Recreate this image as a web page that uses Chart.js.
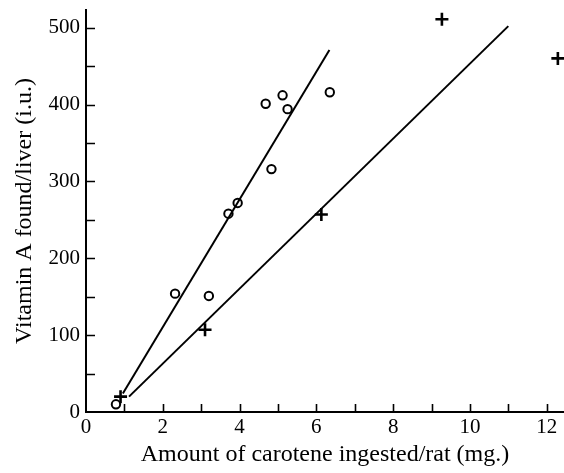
<!DOCTYPE html>
<html>
<head>
<meta charset="utf-8">
<script src="https://cdn.jsdelivr.net/npm/chart.js@4"></script>
<style>
  html, body { margin: 0; padding: 0; background: #fff; }
  #wrap { width: 564px; height: 473px; position: relative; }
</style>
</head>
<body>
<div id="wrap"><canvas id="chart"></canvas></div>
<script>
// circles (o) and crosses (+)
const circleX = [0.78, 2.32, 3.2, 3.71, 3.95, 4.68, 4.83, 5.12, 5.25, 6.35];
const circleY = [10, 154, 151, 258, 272, 401, 316, 412, 394, 416];
const crossX = [0.9, 3.1, 6.13, 9.27, 12.29];
const crossY = [20, 107, 257, 511, 460];
// fitted lines, end points
const steepLineX = [0.96, 6.34];
const steepLineY = [24, 471];
const shallowLineX = [1.12, 11.0];
const shallowLineY = [20, 502];

const xMax = 12.45;
const yMax = 523;
const serif = 'Liberation Serif';

const pts = (xs, ys) => xs.map((x, i) => ({ x: x, y: ys[i] }));

/** Draw inward tick marks at the scale's own tick values. */
const innerTicks = {
  id: 'innerTicks',
  afterDraw(chart) {
    const ctx = chart.ctx;
    const xs = chart.scales.x, ys = chart.scales.y;
    const area = chart.chartArea;
    ctx.save();
    ctx.strokeStyle = '#000';
    ctx.lineWidth = 1.6;
    ctx.beginPath();
    ys.ticks.forEach((t) => {
      if (t.value === 0) return;
      const py = Math.round(ys.getPixelForValue(t.value)) + 0.5;
      ctx.moveTo(area.left, py);
      ctx.lineTo(area.left + 9, py);
    });
    xs.ticks.forEach((t) => {
      if (t.value === 0) return;
      const px = Math.round(xs.getPixelForValue(t.value)) + 0.5;
      ctx.moveTo(px, area.bottom);
      ctx.lineTo(px, area.bottom - 8);
    });
    ctx.stroke();
    ctx.restore();
  },
};

new Chart(document.getElementById('chart'), {
  type: 'scatter',
  data: {
    datasets: [
      { label: 'steep', type: 'line', data: pts(steepLineX, steepLineY), borderColor: '#000', borderWidth: 2, pointRadius: 0, fill: false, tension: 0 },
      { label: 'shallow', type: 'line', data: pts(shallowLineX, shallowLineY), borderColor: '#000', borderWidth: 2, pointRadius: 0, fill: false, tension: 0 },
      { label: 'circles', data: pts(circleX, circleY), pointStyle: 'circle', pointRadius: 4.2, borderColor: '#000', backgroundColor: '#fff', borderWidth: 2 },
      { label: 'crosses', data: pts(crossX, crossY), pointStyle: 'cross', pointRadius: 6.5, borderColor: '#000', borderWidth: 2.6, clip: false },
    ],
  },
  options: {
    responsive: true,
    maintainAspectRatio: false,
    animation: false,
    layout: { autoPadding: false, padding: { top: 10, right: 0, left: 6, bottom: 0 } },
    plugins: { legend: { display: false }, tooltip: { enabled: false } },
    scales: {
      x: {
        type: 'linear',
        min: 0,
        max: xMax,
        afterBuildTicks: (s) => { s.ticks = s.ticks.filter((t) => Number.isInteger(t.value)); },
        afterFit: (s) => { s.height = 61; s.paddingLeft = 0; s.paddingRight = 0; },
        ticks: {
          stepSize: 1,
          includeBounds: false,
          color: '#000',
          padding: 3,
          maxRotation: 0,
          autoSkip: false,
          font: { family: serif, size: 21 },
          callback: (v) => (v % 2 === 0 ? String(v) : ''),
        },
        grid: { display: false, drawTicks: false },
        border: { color: '#000', width: 2 },
        title: { display: true, text: 'Amount of carotene ingested/rat (mg.)', color: '#000', font: { family: serif, size: 24 }, padding: { top: 3 } },
      },
      y: {
        type: 'linear',
        min: 0,
        max: yMax,
        afterBuildTicks: (s) => { s.ticks = s.ticks.filter((t) => t.value % 50 === 0); },
        afterFit: (s) => { s.width = 80; s.paddingTop = 0; s.paddingBottom = 0; },
        ticks: {
          stepSize: 50,
          includeBounds: false,
          color: '#000',
          padding: 6,
          autoSkip: false,
          font: { family: serif, size: 21 },
          callback: (v) => (v % 100 === 0 ? String(v) : ''),
        },
        grid: { display: false, drawTicks: false },
        border: { color: '#000', width: 2 },
        title: { display: true, text: 'Vitamin A found/liver (i.u.)', color: '#000', font: { family: serif, size: 24 }, padding: { bottom: 4 } },
      },
    },
  },
  plugins: [innerTicks],
});
</script>
</body>
</html>
